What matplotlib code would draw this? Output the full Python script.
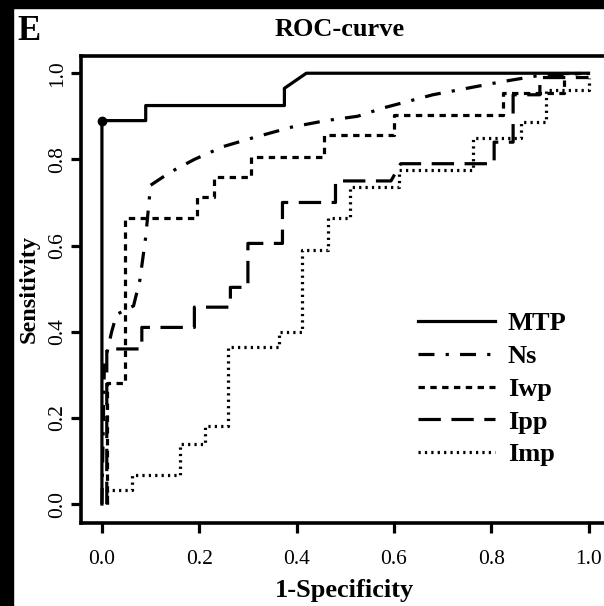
"""ROC curves for MTP, Ns, Iwp, Ipp and Imp (panel E)."""

import matplotlib
matplotlib.use("Agg")
import matplotlib.pyplot as plt
from matplotlib.patches import Rectangle

plt.rcParams["font.family"] = ["Liberation Serif", "DejaVu Serif"]

# curve vertices (1-specificity, sensitivity)
mtp_x = [0, 0, 0.09, 0.09, 0.375, 0.375, 0.42, 1.0]
mtp_y = [0, 0.89, 0.89, 0.925, 0.925, 0.965, 1.0, 1.0]

ns_x = [0.0, 0.005, 0.012, 0.02, 0.03, 0.065, 0.078, 0.09, 0.1, 0.14, 0.19,
        0.25, 0.31, 0.39, 0.46, 0.525, 0.58, 0.68, 0.82, 0.9, 1.0]
ns_y = [0.0, 0.32, 0.36, 0.40, 0.44, 0.46, 0.52, 0.62, 0.74, 0.77, 0.80,
        0.83, 0.85, 0.875, 0.89, 0.90, 0.92, 0.95, 0.98, 0.995, 1.0]

iwp_x = [0.01, 0.01, 0.047, 0.047, 0.196, 0.196, 0.231, 0.231, 0.307, 0.307,
         0.456, 0.456, 0.60, 0.60, 0.825, 0.825, 0.95, 0.95, 1.0]
iwp_y = [0.0, 0.28, 0.28, 0.664, 0.664, 0.712, 0.712, 0.759, 0.759, 0.805,
         0.805, 0.856, 0.856, 0.903, 0.903, 0.953, 0.953, 1.0, 1.0]

ipp_x = [0.01, 0.01, 0.082, 0.082, 0.19, 0.19, 0.264, 0.264, 0.30, 0.30,
         0.371, 0.371, 0.48, 0.48, 0.594, 0.614, 0.806, 0.806, 0.845, 0.845,
         0.9, 0.9, 1.0]
ipp_y = [0.0, 0.36, 0.36, 0.41, 0.41, 0.457, 0.457, 0.503, 0.503, 0.605,
         0.605, 0.70, 0.70, 0.75, 0.75, 0.79, 0.79, 0.84, 0.84, 0.95,
         0.95, 0.99, 0.99]

imp_x = [0.01, 0.01, 0.062, 0.062, 0.16, 0.16, 0.212, 0.212, 0.26, 0.26,
         0.363, 0.363, 0.412, 0.412, 0.464, 0.464, 0.51, 0.51, 0.61, 0.61,
         0.763, 0.763, 0.862, 0.862, 0.913, 0.913, 1.0, 1.0]
imp_y = [0.0, 0.032, 0.032, 0.067, 0.067, 0.14, 0.14, 0.18, 0.18, 0.364,
         0.364, 0.40, 0.40, 0.59, 0.59, 0.664, 0.664, 0.736, 0.736, 0.775,
         0.775, 0.85, 0.85, 0.886, 0.886, 0.96, 0.96, 0.99]

ticks = [0.0, 0.2, 0.4, 0.6, 0.8, 1.0]
tick_labels = ["0.0", "0.2", "0.4", "0.6", "0.8", "1.0"]

W, H = 604, 606
LW = 2.3
fig = plt.figure(figsize=(W / 100, H / 100), dpi=100)
fig.patches.append(Rectangle((0, 0), 13 / W, 1, transform=fig.transFigure,
                             color="black", zorder=10))
fig.patches.append(Rectangle((0, 1 - 8 / H), 1, 8 / H, transform=fig.transFigure,
                             color="black", zorder=10))

ax = fig.add_axes([81 / W, 1 - 523 / H, 527 / W, 467 / H])
ax.plot(mtp_x, mtp_y, color="black", lw=LW, ls="-", label="MTP")
ax.plot([mtp_x[1]], [mtp_y[1]], "o", color="black", ms=6)
ax.plot(ns_x, ns_y, color="black", lw=LW, ls=(0, (5, 3.5, 1, 3.5)), label="Ns")
ax.plot(iwp_x, iwp_y, color="black", lw=LW, ls=(0, (2, 1.7)), label="Iwp")
ax.plot(ipp_x, ipp_y, color="black", lw=LW, ls=(0, (7, 3.3)), label="Ipp")
ax.plot(imp_x, imp_y, color="black", lw=LW, ls=(0, (0.7, 1.3)), label="Imp")

ax.set_xlim(-0.043, 1.04)
ax.set_ylim(-0.044, 1.04)
ax.set_xticks(ticks)
ax.set_xticklabels(tick_labels, fontsize=15.5)
ax.set_yticks(ticks)
ax.set_yticklabels(tick_labels, fontsize=15.5, rotation=90, va="center")
ax.tick_params(direction="out", length=7.2, width=LW)
ax.tick_params(axis="x", pad=12.5)
ax.tick_params(axis="y", pad=3)
for s in ax.spines.values():
    s.set_linewidth(LW + 0.3)

ax.set_xlabel("1-Specificity", fontsize=19, fontweight="bold", labelpad=7)
ax.set_ylabel("Sensitivity", fontsize=17.5, fontweight="bold", labelpad=6)
fig.text(340 / W, 1 - 29 / H, "ROC-curve", fontsize=19, fontweight="bold",
         ha="center", va="center")
fig.text(17 / W, 1 - 31 / H, "E", fontsize=25, fontweight="bold",
         ha="left", va="center")

ax.legend(loc="upper left", bbox_to_anchor=(418 / W, 1 - 312 / H),
          bbox_transform=fig.transFigure, frameon=False, borderpad=0,
          borderaxespad=0, prop={"weight": "bold", "size": 19},
          handlelength=2.9, handletextpad=0.5, labelspacing=0.35)

fig.savefig("out.png", dpi=100, facecolor="white")
